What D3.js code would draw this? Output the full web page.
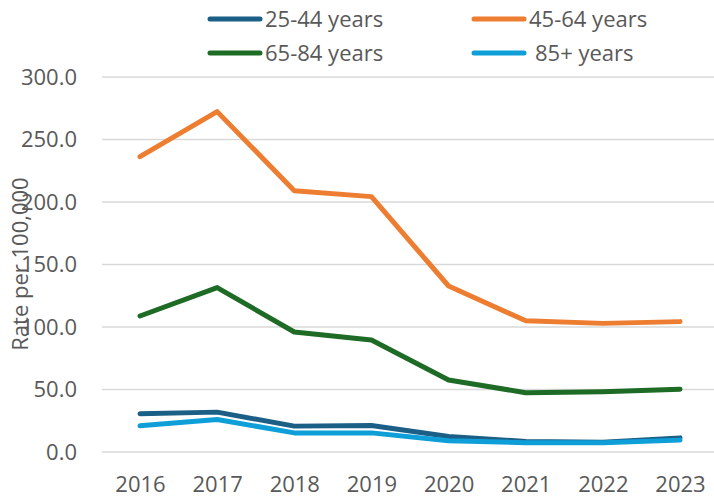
<!DOCTYPE html>
<html>
<head>
<meta charset="utf-8">
<script src="https://cdn.jsdelivr.net/npm/d3@7"></script>
<style>
  body { margin: 0; background: #fff; }
  svg { display: block; font-family: "Open Sans", "Noto Sans", sans-serif; }
</style>
</head>
<body>
<svg id="chart" width="714" height="498"></svg>
<script>
var years = [2016, 2017, 2018, 2019, 2020, 2021, 2022, 2023];
var rate25to44 = [30.6, 31.9, 20.7, 21.2, 12.4, 8.4, 7.9, 11.3];
var rate45to64 = [236.3, 272.3, 209.0, 204.3, 132.8, 105.0, 102.9, 104.3];
var rate65to84 = [108.8, 131.5, 96.0, 89.6, 57.6, 47.4, 48.2, 50.2];
var rate85plus = [21.0, 26.0, 15.3, 15.3, 9.0, 7.4, 7.4, 9.5];
var yTicks = [0, 50, 100, 150, 200, 250, 300];

var series = [
  {name: '25-44 years', values: rate25to44, color: '#1b5e86'},
  {name: '45-64 years', values: rate45to64, color: '#ed7d31'},
  {name: '65-84 years', values: rate65to84, color: '#1d6b25'},
  {name: '85+ years', values: rate85plus, color: '#0f9fd8'}
];

var svg = d3.select('#chart'),
    gridLeft = 102,
    gridRight = 714,
    fontSize = '22px',
    textColor = '#595959';

var x = d3.scalePoint().domain(years).range([140, 680]);
var y = d3.scaleLinear().domain([0, 300]).range([452, 77]);

// gridlines
svg.append('g')
  .selectAll('line')
  .data(yTicks)
  .join('line')
    .attr('x1', gridLeft)
    .attr('x2', gridRight)
    .attr('y1', d => y(d))
    .attr('y2', d => y(d))
    .attr('stroke', '#d9d9d9')
    .attr('stroke-width', 1.5);

// y axis labels
var yAxis = svg.append('g')
  .attr('transform', 'translate(77,0)')
  .call(d3.axisLeft(y).tickValues(yTicks).tickFormat(d3.format('.1f')).tickSize(0).tickPadding(0));
yAxis.select('.domain').remove();
yAxis.selectAll('text')
  .attr('fill', textColor)
  .attr('font-size', fontSize)
  .attr('font-family', '"Open Sans", "Noto Sans", sans-serif');

// x axis labels (kept just inside the bottom edge)
var xAxis = svg.append('g')
  .attr('transform', 'translate(0,476)')
  .call(d3.axisBottom(x).tickSize(0).tickPadding(0).tickFormat(d3.format('d')));
xAxis.select('.domain').remove();
xAxis.selectAll('text')
  .attr('fill', textColor)
  .attr('font-size', fontSize)
  .attr('font-family', '"Open Sans", "Noto Sans", sans-serif');

// y axis title
svg.append('text')
  .attr('transform', 'translate(28,264) rotate(-90)')
  .attr('text-anchor', 'middle')
  .attr('fill', textColor)
  .attr('font-size', fontSize)
  .text('Rate per 100,000');

// lines
var line = d3.line()
  .x((d, i) => x(years[i]))
  .y(d => y(d));

svg.append('g')
  .selectAll('path')
  .data(series)
  .join('path')
    .attr('d', d => line(d.values))
    .attr('fill', 'none')
    .attr('stroke', d => d.color)
    .attr('stroke-width', 5)
    .attr('stroke-linecap', 'round')
    .attr('stroke-linejoin', 'round');

// legend 2x2
var legendPos = [[207, 19], [471, 19], [207, 53], [471, 53]];
var legend = svg.append('g')
  .selectAll('g')
  .data(series)
  .join('g')
    .attr('transform', (d, i) => `translate(${legendPos[i][0]},${legendPos[i][1]})`);
legend.append('line')
  .attr('x1', 3).attr('x2', 53)
  .attr('y1', 0).attr('y2', 0)
  .attr('stroke', d => d.color)
  .attr('stroke-width', 5)
  .attr('stroke-linecap', 'round');
legend.append('text')
  .attr('x', (d, i) => i === 3 ? 64 : 58)
  .attr('y', 0)
  .attr('dy', '0.35em')
  .attr('fill', textColor)
  .attr('font-size', fontSize)
  .text(d => d.name);
</script>
</body>
</html>
